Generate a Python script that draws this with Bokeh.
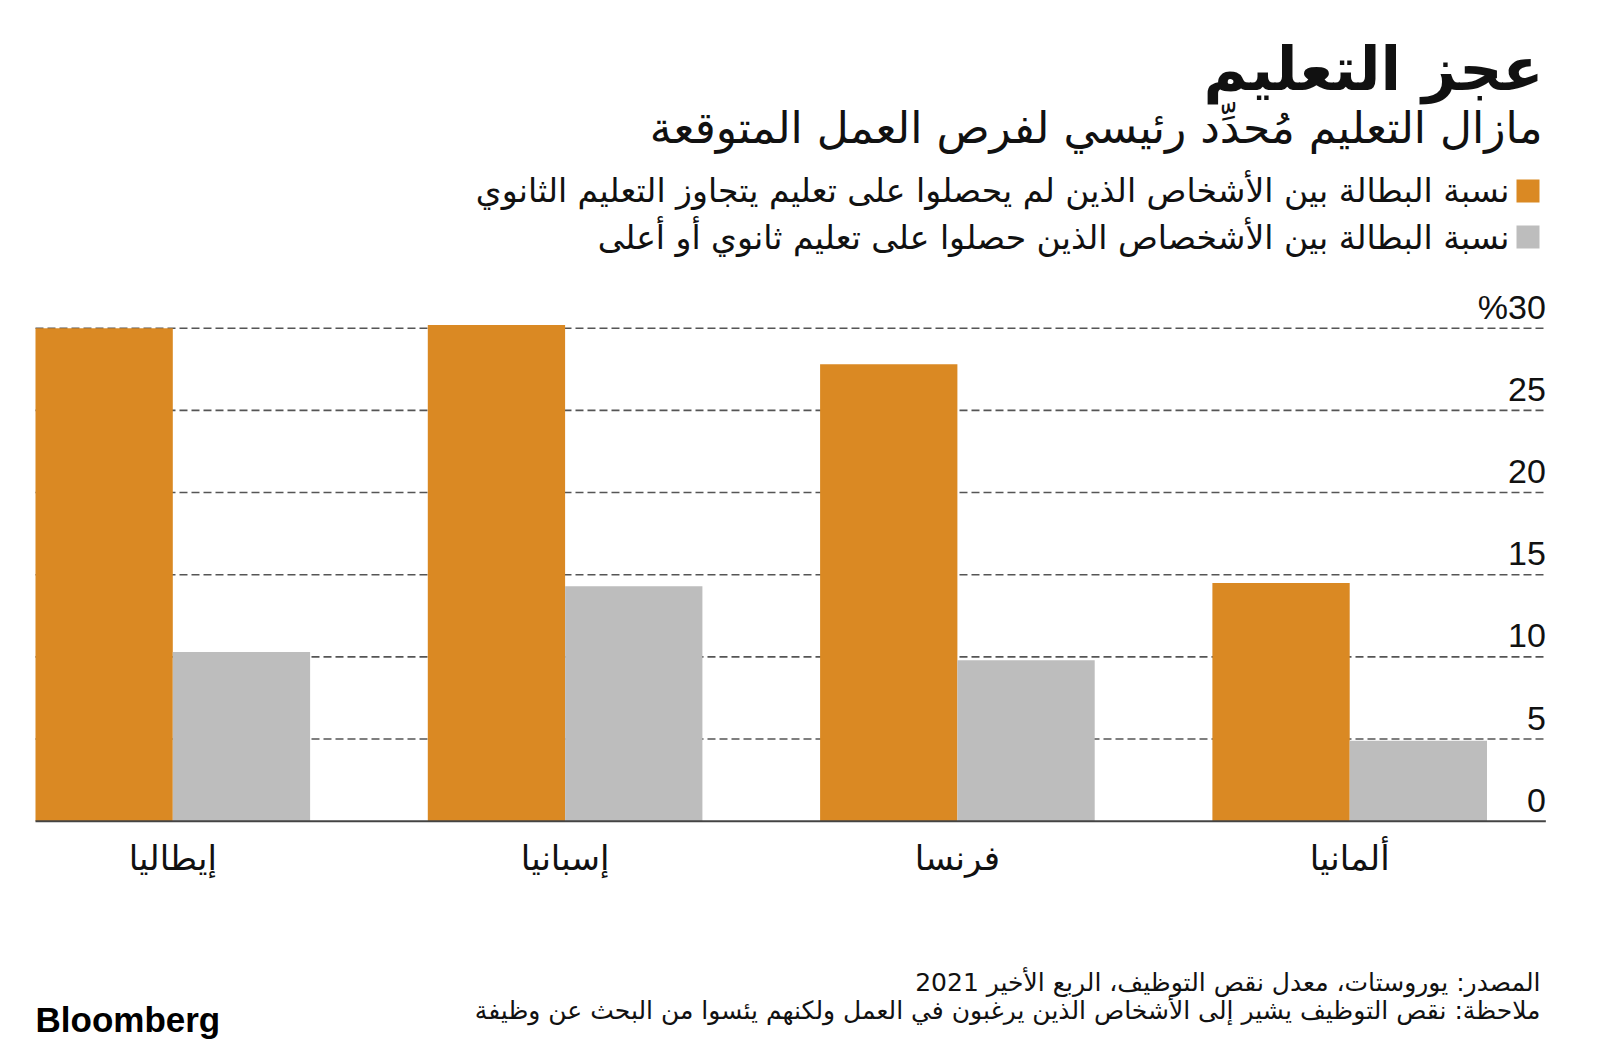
from bokeh.plotting import figure
from bokeh.models import Range1d, Label, BoxAnnotation
from bokeh.core.properties import value
from bokeh.embed import file_html
from bokeh.resources import INLINE

# ---------------- data ----------------
countries = ["إيطاليا", "إسبانيا", "فرنسا", "ألمانيا"]
below_secondary = [30.0, 30.2, 27.8, 14.5]
secondary_or_higher = [10.3, 14.3, 9.8, 4.9]
y_ticks = [0, 5, 10, 15, 20, 25, 30]
y_tick_labels = ["0", "5", "10", "15", "20", "25", "%30"]
series_names = [
    "نسبة البطالة بين الأشخاص الذين لم يحصلوا على تعليم يتجاوز التعليم الثانوي",
    "نسبة البطالة بين الأشخصاص الذين حصلوا على تعليم ثانوي أو أعلى",
]
title_text = "عجز التعليم"
subtitle_text = "مازال التعليم مُحدِّد رئيسي لفرص العمل المتوقعة"
source_text = "المصدر: يوروستات، معدل نقص التوظيف، الربع الأخير 2021"
note_text = "ملاحظة: نقص التوظيف يشير إلى الأشخاص الذين يرغبون في العمل ولكنهم يئسوا من البحث عن وظيفة"
brand_text = "Bloomberg"

# ---------------- style / layout ----------------
ORANGE = "#DA8923"
GRAY = "#BDBDBD"
INK = "#111111"
AR_FONT = "DejaVu Sans"
NUM_FONT = "Liberation Sans"

W, H = 1596, 1046
# pixel layout of the plotting area
X_GROUP0 = 172.3      # centre of first group (px from left)
X_PITCH = 392.3       # px per group
Y_ZERO = 820.7        # px from top of the zero line
Y_PX_PER_UNIT = 16.433

x_start = -X_GROUP0 / X_PITCH
y_start = -(H - Y_ZERO) / Y_PX_PER_UNIT


def sx(X):
    return X


def sy(Y):
    return H - Y


p = figure(
    width=W, height=H,
    x_range=Range1d(x_start, x_start + W / X_PITCH),
    y_range=Range1d(y_start, y_start + H / Y_PX_PER_UNIT),
    output_backend="svg", toolbar_location=None,
    x_axis_location=None, y_axis_location=None,
    min_border=0, min_border_left=0, min_border_right=0,
    min_border_top=0, min_border_bottom=0,
)
p.grid.visible = False
p.outline_line_color = None
p.background_fill_color = "white"
p.border_fill_color = "white"

x_left, x_right = -0.35, 3.5

# gridlines
grid_vals = [t for t in y_ticks if t > 0]
p.segment(x0=[x_left] * len(grid_vals), x1=[x_right] * len(grid_vals),
          y0=grid_vals, y1=grid_vals, line_color="#555555", line_width=1.6,
          line_dash="8 4")

# bars
idx = list(range(len(countries)))
bw = 0.35
p.vbar(x=[i - bw / 2 for i in idx], top=below_secondary, width=bw,
       fill_color=ORANGE, line_color=None)
p.vbar(x=[i + bw / 2 for i in idx], top=secondary_or_higher, width=bw,
       fill_color=GRAY, line_color=None)

# zero line
p.segment(x0=[x_left], x1=[x_right], y0=[0], y1=[0], line_color="#444444",
          line_width=2)

# y tick labels (above gridlines, right aligned)
p.text(x=[x_right] * len(y_ticks), y=y_ticks, text=y_tick_labels,
       text_align="right", text_baseline="alphabetic", y_offset=-21,
       text_font=value(NUM_FONT), text_font_size="34px", text_color=INK)

# category labels
p.text(x=idx, y=[0] * len(idx), text=countries, text_align="center",
       text_baseline="alphabetic", y_offset=37,
       text_font=value(AR_FONT), text_font_size="34px", text_color=INK)

# title & subtitle
p.add_layout(Label(x=sx(1543), y=sy(68), x_units="screen", y_units="screen",
                   text=title_text, text_align="right", text_baseline="alphabetic",
                   text_font=AR_FONT, text_font_size="60px", text_font_style="bold",
                   text_color=INK))
p.add_layout(Label(x=sx(1542), y=sy(127), x_units="screen", y_units="screen",
                   text=subtitle_text, text_align="right", text_baseline="alphabetic",
                   text_font=AR_FONT, text_font_size="44px", text_color=INK))

# legend
leg_rows = [(179, 202, 190, ORANGE), (225, 248, 237, GRAY)]
for (top, bottom, base, col), name in zip(leg_rows, series_names):
    p.add_layout(BoxAnnotation(left=sx(1516), right=sx(1539), top=sy(top), bottom=sy(bottom),
                               left_units="screen", right_units="screen",
                               top_units="screen", bottom_units="screen",
                               fill_color=col, fill_alpha=1, line_color=None))
    p.add_layout(Label(x=sx(1509), y=sy(base), x_units="screen", y_units="screen",
                       text=name, text_align="right", text_baseline="alphabetic",
                       text_font=AR_FONT, text_font_size="33px", text_color=INK))

# footer
p.add_layout(Label(x=sx(1540), y=sy(982), x_units="screen", y_units="screen",
                   text=source_text, text_align="right", text_baseline="alphabetic",
                   text_font=AR_FONT, text_font_size="25px", text_color=INK))
p.add_layout(Label(x=sx(1540), y=sy(1010), x_units="screen", y_units="screen",
                   text=note_text, text_align="right", text_baseline="alphabetic",
                   text_font=AR_FONT, text_font_size="25px", text_color=INK))
p.add_layout(Label(x=sx(35), y=sy(1019), x_units="screen", y_units="screen",
                   text=brand_text, text_align="left", text_baseline="alphabetic",
                   text_font=NUM_FONT, text_font_size="35px", text_font_style="bold",
                   text_color="#000000"))

open("out.html", "w").write(file_html(p, INLINE))
